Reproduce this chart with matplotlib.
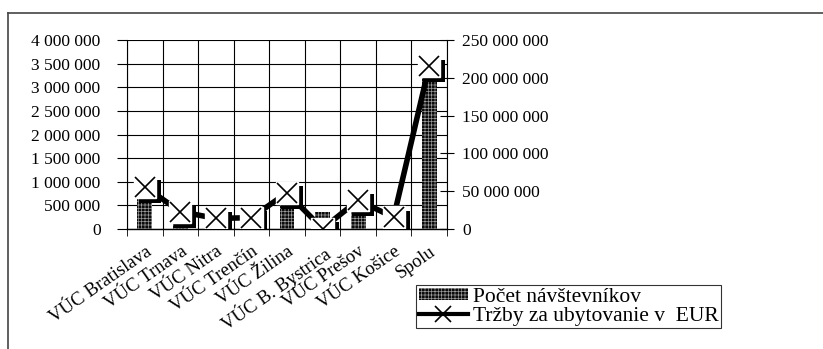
import numpy as np
import matplotlib.pyplot as plt
import matplotlib.patheffects as pe
from matplotlib.ticker import FuncFormatter, MultipleLocator
from matplotlib.lines import Line2D

plt.rcParams['font.family'] = ['Liberation Serif', 'DejaVu Serif']
plt.rcParams['hatch.linewidth'] = 0.5

## data
regions = ['VÚC Bratislava', 'VÚC Trnava', 'VÚC Nitra', 'VÚC Trenčín', 'VÚC Žilina',
           'VÚC B. Bystrica', 'VÚC Prešov', 'VÚC Košice', 'Spolu']
visitors = [690000, 160000, 35000, 50000, 560000, 350000, 400000, 35000, 3260000]
revenue = [56000000, 23000000, 14000000, 15000000, 48000000, 500000, 38000000, 15500000, 215500000]

fmt = FuncFormatter(lambda v, p: f'{int(v):,}'.replace(',', ' '))

fig = plt.figure(figsize=(8.23, 3.49), dpi=100)
ax = fig.add_axes([0.1543, 0.3438, 0.3888, 0.5416])
x = np.arange(len(regions))

ax.bar(x, visitors, width=0.42, color='#0a0a0a', edgecolor='#9a9a9a', hatch='+++++', lw=0, zorder=2)
ax.set_xlim(-0.5, len(regions) - 0.5)
ax.set_ylim(0, 4000000)
ax.yaxis.set_major_locator(MultipleLocator(500000))
ax.yaxis.set_major_formatter(fmt)
ax.set_xticks(x)
ax.set_xticklabels(regions, rotation=35, ha='right', va='top', rotation_mode='anchor', fontsize=13.5)
ax.tick_params(axis='x', length=0, pad=10)
ax.set_xticks(np.arange(len(regions) + 1) - 0.5, minor=True)
ax.tick_params(axis='x', which='minor', length=5, direction='out', color='black')
ax.tick_params(axis='y', length=7, direction='out', labelsize=12.5, pad=12, color='black')
ax.grid(True, which='major', axis='y', color='black', lw=0.8, zorder=0)
ax.grid(True, which='minor', axis='x', color='black', lw=0.8, zorder=0)
for s in ['top', 'right']:
    ax.spines[s].set_visible(False)
ax.spines['left'].set_linewidth(0.8)
ax.spines['bottom'].set_linewidth(1.0)

ax2 = ax.twinx()
ax2.set_ylim(0, 250000000)
ax2.yaxis.set_major_locator(MultipleLocator(50000000))
ax2.yaxis.set_major_formatter(fmt)
ax2.tick_params(axis='y', length=10, direction='inout', labelsize=12.5, pad=6, color='black')
for s in ['top', 'left', 'bottom']:
    ax2.spines[s].set_visible(False)
ax2.spines['right'].set_linewidth(0.8)

# thick line with shadowed white boxes around the X markers
ax2.plot(x, revenue, color='black', lw=4, zorder=3, solid_capstyle='butt')
ax2.plot(x, revenue, ls='none', marker='s', ms=16, mfc='white', mec='white', zorder=4,
         path_effects=[pe.SimplePatchShadow(offset=(3.5, -3.5), shadow_rgbFace='black', alpha=1), pe.Normal()])
ax2.plot(x, revenue, ls='none', marker='x', ms=14, mew=1.2, color='black', zorder=5)

# legend
h_bar = plt.Rectangle((0, 0), 1, 1, facecolor='#0a0a0a', edgecolor='#9a9a9a', hatch='+++++', lw=0)
h_line = Line2D([], [], color='black', lw=3, marker='x', ms=12, mew=1.2,
                markerfacecolor='white')
leg = fig.legend([h_bar, h_line], ['Počet návštevníkov', 'Tržby za ubytovanie v  EUR'],
                 loc='upper left', bbox_to_anchor=(0.506, 0.182), fontsize=15.5,
                 frameon=True, fancybox=False, edgecolor='black', borderpad=0.1,
                 labelspacing=0.0, handlelength=2.3, handleheight=0.5, handletextpad=0.25,
                 borderaxespad=0)
leg.get_frame().set_linewidth(0.8)

# outer border (top and left)
fig.add_artist(Line2D([0.0097, 1.0], [0.9628, 0.9628], color='#444444', lw=1.2, transform=fig.transFigure))
fig.add_artist(Line2D([0.0097, 0.0097], [0.0, 0.9628], color='#444444', lw=1.2, transform=fig.transFigure))

fig.savefig('out.png', dpi=100)
